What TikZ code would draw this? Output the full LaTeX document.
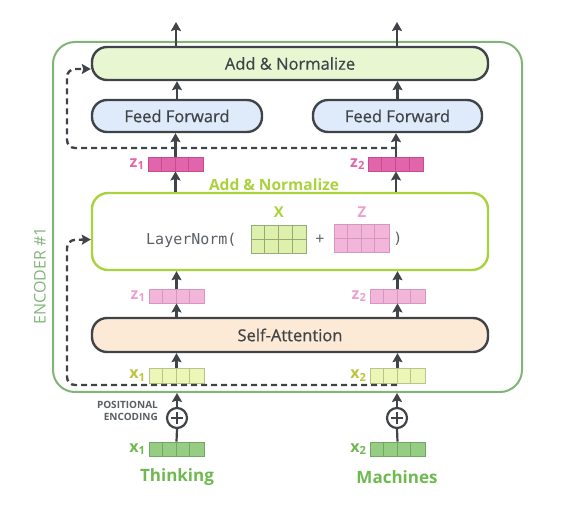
\documentclass[tikz,border=0pt]{standalone}
\usepackage{fontspec}
\setmainfont{Open Sans}
\newfontfamily\boxfont{Open Sans}[FakeBold=0.6]
\newfontfamily\monofont{DejaVu Sans Mono}
\usetikzlibrary{arrows.meta}
\definecolor{dgray}{RGB}{64,68,72}
\definecolor{addfill}{RGB}{233,246,210}
\definecolor{fffill}{RGB}{223,235,250}
\definecolor{safill}{RGB}{252,233,214}
\definecolor{lngreen}{RGB}{170,210,60}
\definecolor{zdark}{RGB}{226,100,170}
\definecolor{zdarkb}{RGB}{196,78,140}
\definecolor{zlight}{RGB}{242,182,218}
\definecolor{zlightb}{RGB}{214,150,190}
\definecolor{zlab}{RGB}{236,160,205}
\definecolor{xmat}{RGB}{222,240,172}
\definecolor{xmatb}{RGB}{150,170,120}
\definecolor{xin}{RGB}{236,246,182}
\definecolor{xinb}{RGB}{185,195,140}
\definecolor{xlab}{RGB}{190,195,60}
\definecolor{xg}{RGB}{150,205,130}
\definecolor{xgb}{RGB}{115,165,100}
\definecolor{wgreen}{RGB}{110,185,80}
\definecolor{encg}{RGB}{130,180,120}
\definecolor{pgray}{RGB}{90,95,100}
\newcommand\vecrow[6]{%
  \node[draw=#5, fill=#4, line width=0.8pt, minimum width=55pt, minimum height=#6pt, inner sep=0pt] (#1) at (#2,#3) {};
  \foreach \i in {1,2,3} \draw[#5, line width=0.8pt] ([xshift=\i*13.75pt]#1.north west) -- ([xshift=\i*13.75pt]#1.south west);}
\newcommand\matbox[5]{%
  \node[draw=#5, fill=#4, line width=0.8pt, minimum width=55pt, minimum height=28pt, inner sep=0pt] (#1) at (#2,#3) {};
  \foreach \i in {1,2,3} \draw[#5, line width=0.8pt] ([xshift=\i*13.75pt]#1.north west) -- ([xshift=\i*13.75pt]#1.south west);
  \draw[#5, line width=0.8pt] (#1.west) -- (#1.east);}
\begin{document}
\begin{tikzpicture}[x=1pt,y=-1pt,
  pill/.style={draw=dgray, line width=2.4pt, rounded corners=15pt, inner sep=0pt, text=dgray, font=\boxfont\fontsize{16.5}{18}\selectfont},
  arr/.style={draw=dgray, line width=2.4pt, -{Stealth[length=9pt,width=10pt,inset=1.5pt]}},
  dres/.style={draw=dgray, line width=2.4pt, dash pattern=on 6pt off 4pt, rounded corners=8pt, -{Stealth[length=9pt,width=10pt,inset=1.5pt]}},
  lab/.style={font=\bfseries\fontsize{16}{18}\selectfont, anchor=east, inner sep=1pt},
  plus/.style={draw=dgray, line width=2.2pt, circle, minimum size=20pt, inner sep=0pt}]
\useasboundingbox (0,0) rectangle (571,526);
% encoder frame
\node[draw=encg, line width=2pt, rounded corners=22pt, minimum width=469pt, minimum height=350pt, inner sep=0pt] (enc) at (287.5,217) {};
\node[rotate=90, text=encg, font=\fontsize{16}{18}\selectfont] (enclab) at (40,276) {ENCODER \#1};
% top part
\node[pill, fill=addfill, minimum width=396pt, minimum height=33pt] (addtop) at (290,63.5) {Add \& Normalize};
\node[pill, fill=fffill, minimum width=170pt, minimum height=32pt] (ffL) at (177,116) {Feed Forward};
\node[pill, fill=fffill, minimum width=169pt, minimum height=32pt] (ffR) at (397.5,116) {Feed Forward};
\vecrow{zL}{175.5}{164}{zdark}{zdarkb}{14}
\vecrow{zR}{396}{164}{zdark}{zdarkb}{14}
\node[lab, text=zdark] (zLl) at ([xshift=-2pt]zL.west) {z\textsubscript{1}};
\node[lab, text=zdark] (zRl) at ([xshift=-2pt]zR.west) {z\textsubscript{2}};
\node[text=lngreen, font=\bfseries\fontsize{15.5}{17}\selectfont, inner sep=0pt] (anlab) at (274,185) {Add \& Normalize};
% layernorm box
\node[draw=lngreen, line width=2.4pt, rounded corners=16pt, fill=white, minimum width=396pt, minimum height=77pt, inner sep=0pt] (ln) at (290,231.5) {};
\node[anchor=west, text=pgray, font=\monofont\fontsize{15}{17}\selectfont, inner sep=0pt] (lntext) at (146,240) {LayerNorm(};
\matbox{Xm}{279}{239}{xmat}{xmatb}
\node[text=lngreen, font=\bfseries\fontsize{15}{17}\selectfont] (Xl) at (279,212) {X};
\node[text=pgray, font=\fontsize{16}{18}\selectfont] (pl) at (320,240) {+};
\matbox{Zm}{361.5}{238}{zlight}{zlightb}
\node[text=zlab, font=\bfseries\fontsize{15}{17}\selectfont] (Zl) at (362,212) {Z};
\node[text=pgray, font=\monofont\fontsize{15}{17}\selectfont] (rp) at (398,239) {)};
% lower part
\vecrow{zlL}{176.5}{296}{zlight}{zlightb}{14}
\vecrow{zlR}{397.5}{296}{zlight}{zlightb}{14}
\node[lab, text=zlab] (zlLl) at ([xshift=-2pt]zlL.west) {z\textsubscript{1}};
\node[lab, text=zlab] (zlRl) at ([xshift=-2pt]zlR.west) {z\textsubscript{2}};
\node[pill, fill=safill, minimum width=396pt, minimum height=34pt] (sa) at (290,335) {Self-Attention};
\vecrow{xL}{176.5}{375.5}{xin}{xinb}{15}
\vecrow{xR}{397.5}{375.5}{xin}{xinb}{15}
\node[lab, text=xlab] (xLl) at ([xshift=-2pt]xL.west) {x\textsubscript{1}};
\node[lab, text=xlab] (xRl) at ([xshift=-2pt]xR.west) {x\textsubscript{2}};
% inputs
\node[plus] (pL) at (177,418) {};
\node[plus] (pR) at (397,418) {};
\foreach \p in {pL,pR} {
  \draw[dgray, line width=2pt] ([xshift=-6pt]\p.center) -- ([xshift=6pt]\p.center);
  \draw[dgray, line width=2pt] ([yshift=-6pt]\p.center) -- ([yshift=6pt]\p.center);}
\node[anchor=east, align=right, text=pgray, font=\bfseries\fontsize{10}{12}\selectfont, inner sep=0pt] (posenc) at (158,411) {POSITIONAL\\ENCODING};
\vecrow{xgL}{176.5}{449}{xg}{xgb}{14}
\vecrow{xgR}{397.5}{449}{xg}{xgb}{14}
\node[lab, text=wgreen] (xgLl) at ([xshift=-2pt]xgL.west) {x\textsubscript{1}};
\node[lab, text=wgreen] (xgRl) at ([xshift=-2pt]xgR.west) {x\textsubscript{2}};
\node[text=wgreen, font=\bfseries\fontsize{17}{19}\selectfont] (think) at (177,477) {Thinking};
\node[text=wgreen, font=\bfseries\fontsize{17}{19}\selectfont] (mach) at (397,477) {Machines};
% connectors
\coordinate (oL) at (176,22);
\coordinate (oR) at (397,22);
\draw[arr] (addtop.north -| oL) -- (oL);
\draw[arr] (addtop.north -| oR) -- (oR);
\draw[arr] (ffL.north) -- (ffL.north |- addtop.south);
\draw[arr] (ffR.north) -- (ffR.north |- addtop.south);
\coordinate (rT) at (397,148);
\coordinate (rB) at (397,385);
\draw[dres] (rT) -- (67,148) -- (67,69) -- ([yshift=-5.5pt]addtop.west);
\draw[dres] (rB) -- (67,385) -- (67,240) -- ([yshift=-8pt]ln.west);
\draw[arr] (zL.north) -- (zL.north |- ffL.south);
\draw[arr] (zR.north) -- (zR.north |- ffR.south);
\draw[arr] (zL.south |- ln.north) -- (zL.south);
\draw[arr] (zR.south |- ln.north) -- (zR.south);
\draw[arr] (zlL.north) -- (zlL.north |- ln.south);
\draw[arr] (zlR.north) -- (zlR.north |- ln.south);
\draw[arr] (zlL.south |- sa.north) -- (zlL.south);
\draw[arr] (zlR.south |- sa.north) -- (zlR.south);
\draw[arr] (xL.north) -- (xL.north |- sa.south);
\draw[arr] (xR.north) -- (xR.north |- sa.south);
\draw[arr] (pL.north) -- (pL.north |- enc.south);
\draw[arr] (pR.north) -- (pR.north |- enc.south);
\draw[dgray, line width=2.2pt] (xgL.north) -- (pL.south);
\draw[dgray, line width=2.2pt] (xgR.north) -- (pR.south);
\end{tikzpicture}
\end{document}
